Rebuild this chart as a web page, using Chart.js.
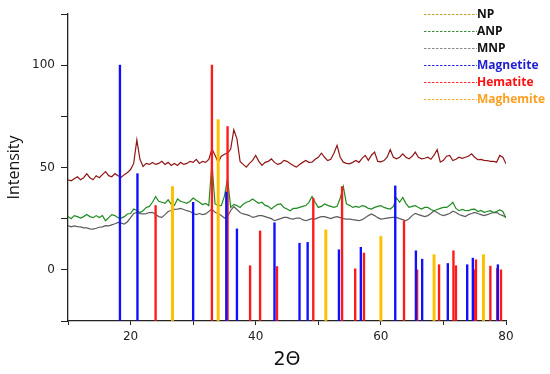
<!DOCTYPE html>
<html>
<head>
<meta charset="utf-8">
<script src="https://cdn.jsdelivr.net/npm/chart.js@4"></script>
<style>
  html, body { margin: 0; padding: 0; background: #fff; }
  #wrap { width: 550px; height: 374px; }
</style>
</head>
<body>
<div id="wrap"><canvas id="xrd"></canvas></div>
<script>
// 2-theta grid for the measured patterns
var twoTheta = [10,10.5,11,11.5,12,12.5,13,13.5,14,14.5,15,15.5,16,16.5,17,17.5,18,18.5,19,19.5,
  20,20.5,21,21.5,22,22.5,23,23.5,24,24.5,25,25.5,26,26.5,27,27.5,28,28.5,29,29.5,
  30,30.5,31,31.5,32,32.5,33,33.5,34,34.5,35,35.5,36,36.5,37,37.5,38,38.5,39,39.5,
  40,40.5,41,41.5,42,42.5,43,43.5,44,44.5,45,45.5,46,46.5,47,47.5,48,48.5,49,49.5,
  50,50.5,51,51.5,52,52.5,53,53.5,54,54.5,55,55.5,56,56.5,57,57.5,58,58.5,59,59.5,
  60,60.5,61,61.5,62,62.5,63,63.5,64,64.5,65,65.5,66,66.5,67,67.5,68,68.5,69,69.5,
  70,70.5,71,71.5,72,72.5,73,73.5,74,74.5,75,75.5,76,76.5,77,77.5,78,78.5,79,79.5,80];

var np = [44,43.5,44.5,45.5,44,45,47,45,44,46,45,46.5,48,46,45.5,47,46,45.2,46.5,47.5,
  49,52,63.5,54,50.5,52,51.5,52.5,51.5,52,53,51.5,52.5,51,52,51,52.5,51.5,52,53,
  52.5,54,52,53,52.5,54,59,56,52.5,55.5,56.5,57,59,68.5,64,53,51.5,50.2,52,53.5,
  55.9,53,51,52.5,53,54.2,52.5,51.5,52,53.5,53,52,51,50.2,51.5,52.5,53.4,52.5,52.6,54,
  55,57,55,53.4,54,57,60.8,55,52.6,52,51.8,52.5,53.4,52.5,54.5,55.9,53.5,56,57.5,53,
  52.8,53.4,55,58.7,55,54.2,55,56.7,55,54.2,55.5,57.5,55,54.2,54.5,55,54,56,58.7,52.6,
  53.5,55.5,55.9,53.4,54,55,54.5,55,55.5,56.7,55,53.8,54,53.5,53.4,53,53,52.6,55.9,55,51.8];

var anp = [26,25,26.5,26,25.3,26,27,26,25.5,26.5,25.6,26.5,24,25.5,27,26.5,25.5,25.3,26,27.3,
  27.5,29.7,29,28,28.9,30.5,31,33,35.8,33.5,33,32.5,34.2,32,31.4,34.6,33.5,33,32.5,33.5,
  35.1,34,33,31.9,32.5,31.4,52,32.2,31.5,31.4,36,44.4,30.5,32,31.4,30.5,32,33,33.5,34.6,
  33.5,32.5,33,31.5,31,29.7,31,32,32.2,30.5,29.7,28.9,30,30,30.5,31,31.4,33,35.8,33,
  30.5,31,32.2,31.5,31,30.5,31,35,40.7,32.2,31.5,30.5,31,30.5,31.4,31,30,29.7,30.5,31,
  31.4,30.5,30,29.7,31,35.1,33,35.4,32.5,30.5,31,31.4,30.5,29.7,30.5,30.5,29.5,28.9,29.5,30,
  30.5,30.5,31.5,33,30,28.9,29.5,29,28.9,29.5,29.7,28.5,29,28.1,28.5,28.9,28,28.5,29.3,28.5,25.3];

var mnp = [21.6,21,21.5,21.1,21,20.5,20.5,20,19.9,20.3,20.8,21,21.6,21.5,22,22.5,23.2,22.8,22.4,23.5,
  25.5,27.5,28.1,27.5,27.3,27.5,28,28.1,27,26,25.6,27,28.5,29,29.5,29.7,30,29.5,28.9,28.5,
  27.5,27,27.5,27,27.3,28.5,29.7,28.1,27.5,26.5,25.3,26,29,30.9,29.5,28,27.3,27,26.5,25.6,
  26,26.5,26.5,26,25.5,25,24,24.5,25,25.6,25.6,25,24.8,25.3,25.3,24.5,24,24.5,25,24.8,
  25.5,26,26,25.5,25,25.6,26,25.5,25,24.8,24.8,24.5,24.3,24,24.5,25.5,26.5,27.3,26.5,25.5,
  24.8,25,25.3,25.5,25.6,25.6,25,24.5,24,25,26.5,27.6,27,26.5,26,26.5,27.5,28.9,28,27,
  26.5,27,27.5,28.6,28,27,26.5,26,27,27.5,28.1,27.5,27,26.5,27,27.5,28,28.1,27,26.5,25.6];

// reference stick patterns
var magnetitePos = [18.3,21.1,30.0,35.3,37.0,43.0,47.0,48.3,53.3,56.8,62.3,65.6,66.6,70.7,73.8,74.7,78.7];
var magnetiteInt = [100,47,33,38,20,23,13,13.4,9.8,11,41,9.3,5.2,3.1,2.5,5.7,2.5];
var hematitePos = [24.0,33.0,35.5,39.1,40.7,43.4,49.2,53.8,55.9,57.3,63.7,65.8,69.3,71.6,72.0,74.9,75.2,77.5,78.6,79.2];
var hematiteInt = [31.4,100,70,2,19,1.6,35,40.7,0.5,8.2,24,0,2.5,9.3,2,0,4.9,1.8,0.7,0];
var maghemitePos = [26.7,34.0,51.2,60.0,68.5,76.4];
var maghemiteInt = [40.7,73.4,19.5,16.3,7.4,7.4];

var legendNames = ['NP','ANP','MNP','Magnetite','Hematite','Maghemite'];
var legendLineColors = ['#c9a227','#3d8f3d','#8a8a8a','#2a2ae0','#ff2a2a','#ffab30'];
var legendTextColors = ['#111','#111','#111','#1e1ed0','#ff1010','#ffa020'];

function xy(xs, ys) {
  return xs.map(function (x, i) { return {x: x, y: ys[i]}; });
}

var legendPlugin = {
  id: 'dashLegend',
  afterDraw: function (chart) {
    var ctx = chart.ctx;
    ctx.save();
    ctx.font = 'bold 12px "Open Sans"';
    ctx.textBaseline = 'middle';
    ctx.lineWidth = 1.2;
    ctx.setLineDash([2.5, 1.5]);
    legendNames.forEach(function (name, i) {
      var y = 14.5 + i * 17;
      ctx.strokeStyle = legendLineColors[i];
      ctx.beginPath();
      ctx.moveTo(424, y);
      ctx.lineTo(477, y);
      ctx.stroke();
      ctx.fillStyle = legendTextColors[i];
      ctx.fillText(name, 477, y);
    });
    ctx.restore();
  }
};

function stick(label, pos, vals, color, w) {
  return {
    type: 'bar',
    label: label,
    data: xy(pos, vals),
    base: -25,
    backgroundColor: color,
    borderWidth: 0,
    barThickness: w,
    grouped: false,
  };
}

function pattern(label, vals, color) {
  return {
    type: 'line',
    label: label,
    data: xy(twoTheta, vals),
    borderColor: color,
    borderWidth: 1.2,
    pointRadius: 0,
    tension: 0,
    fill: false,
  };
}

var ctx = document.getElementById('xrd').getContext('2d');
var myChart = new Chart(ctx, {
  type: 'line',
  data: {
    datasets: [
      stick('Magnetite', magnetitePos, magnetiteInt, '#1010ff', 1.7),
      stick('Hematite', hematitePos, hematiteInt, '#ff1a1a', 1.7),
      stick('Maghemite', maghemitePos, maghemiteInt, '#ffc000', 2.3),
      pattern('NP', np, '#8f1515'),
      pattern('ANP', anp, '#1f8a1f'),
      pattern('MNP', mnp, '#5c5c5c'),
    ],
  },
  options: {
    responsive: true,
    maintainAspectRatio: false,
    animation: false,
    layout: { padding: { left: 0, right: 44, top: 14, bottom: 0 } },
    plugins: {
      legend: { display: false },
      tooltip: { enabled: false },
    },
    scales: {
      x: {
        type: 'linear',
        min: 10,
        max: 80,
        offset: false,
        afterFit: function (s) { s.height = 53; },
        grid: { display: true, drawOnChartArea: false, drawTicks: true, tickLength: 4, color: '#222', offset: false },
        border: { display: true, color: '#222', width: 1.3 },
        ticks: {
          stepSize: 10,
          color: '#222',
          padding: 5,
          maxRotation: 0,
          font: { family: '"DejaVu Sans"', size: 12 },
          callback: function (v) { return v % 20 === 0 ? String(v) : ''; },
        },
        title: {
          display: true,
          text: '2Θ',
          color: '#111',
          font: { family: '"DejaVu Sans"', size: 19 },
          padding: { top: 0, bottom: 3 },
        },
      },
      y: {
        min: -25,
        max: 125,
        afterFit: function (s) { s.width = 68; },
        grid: { display: true, drawOnChartArea: false, drawTicks: true, tickLength: 7, color: '#222' },
        border: { display: true, color: '#222', width: 1.3 },
        ticks: {
          stepSize: 25,
          color: '#222',
          padding: 6,
          font: { family: '"DejaVu Sans"', size: 12 },
          callback: function (v) { return v % 50 === 0 ? String(v) : ''; },
        },
        title: {
          display: true,
          text: 'Intensity',
          color: '#111',
          font: { family: '"Open Sans"', size: 16 },
          padding: { top: 5, bottom: 0 },
        },
      },
    },
  },
  plugins: [legendPlugin],
});
</script>
</body>
</html>
